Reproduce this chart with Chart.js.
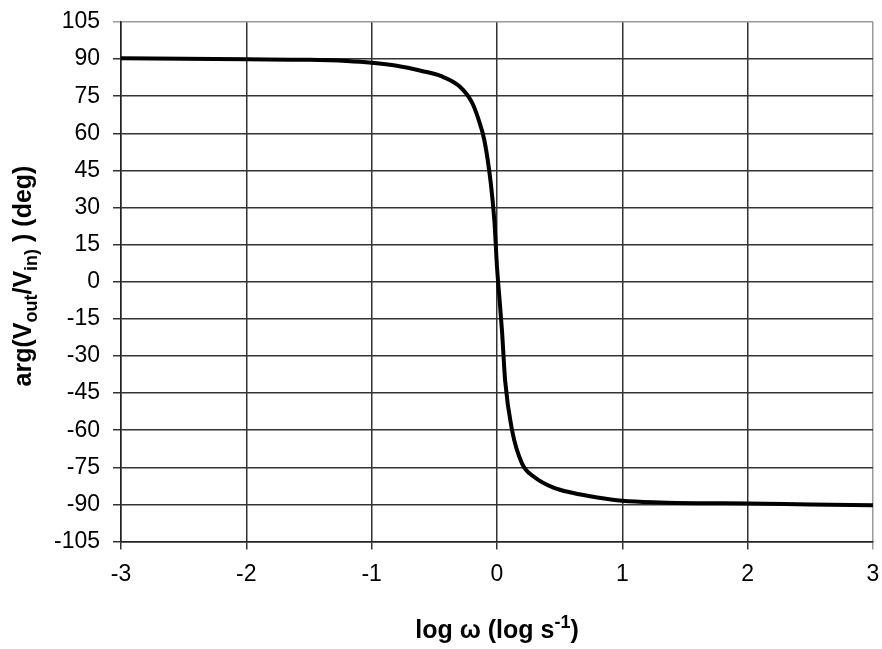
<!DOCTYPE html>
<html>
<head>
<meta charset="utf-8">
<script src="https://cdn.jsdelivr.net/npm/chart.js@4.4.0/dist/chart.umd.min.js"></script>
<style>
  html, body { margin: 0; padding: 0; background: #fff; }
  #wrap { width: 882px; height: 649px; }
</style>
</head>
<body>
<div id="wrap"><canvas id="myChart" width="882" height="649"></canvas></div>
<script>
// log omega values and phase (deg)
var logOmega = [-3, -2.5, -2, -1.5, -1.2, -1, -0.8, -0.6, -0.45, -0.3, -0.2, -0.15, -0.1, -0.05, -0.02, 0,
                0.02, 0.04, 0.065, 0.12, 0.2, 0.3, 0.45, 0.6, 0.8, 1, 1.3, 1.6, 2, 2.5, 3];
var phaseDeg = [90.3, 90.1, 89.9, 89.7, 89.2, 88.5, 87.3, 85.2, 83.2, 79.0, 72.5, 66.0, 57.0, 40.0, 24.0, 6.0,
                -7.0, -20.0, -40.0, -60.0, -73.5, -79.0, -83.2, -85.3, -87.2, -88.5, -89.2, -89.5, -89.6, -90.0, -90.3];

var xTicks = [-3, -2, -1, 0, 1, 2, 3];
var yTicks = [-105, -90, -75, -60, -45, -30, -15, 0, 15, 30, 45, 60, 75, 90, 105];

var xTitle = [{ t: 'log \u03c9 (log s' }, { t: '-1', sup: true }, { t: ')' }];
var yTitle = [{ t: 'arg(V' }, { t: 'out', sub: true }, { t: '/V' }, { t: 'in)', sub: true }, { t: ' ) (deg)' }];

var points = logOmega.map(function (x, i) { return { x: x, y: phaseDeg[i] }; });

function drawRich(ctx, parts, cx, cy, angle, size) {
  var big = 'bold ' + size + 'px "Liberation Sans", Arial, sans-serif';
  var small = 'bold ' + Math.round(size * 0.7) + 'px "Liberation Sans", Arial, sans-serif';
  var total = 0;
  parts.forEach(function (p) {
    ctx.font = (p.sub || p.sup) ? small : big;
    p.w = ctx.measureText(p.t).width;
    total += p.w;
  });
  ctx.save();
  ctx.translate(cx, cy);
  ctx.rotate(angle);
  ctx.fillStyle = '#000';
  ctx.textBaseline = 'alphabetic';
  ctx.textAlign = 'left';
  var x = -total / 2;
  var base = size * 0.36;
  parts.forEach(function (p) {
    ctx.font = (p.sub || p.sup) ? small : big;
    var dy = p.sub ? size * 0.22 : (p.sup ? -size * 0.42 : 0);
    ctx.fillText(p.t, x, base + dy);
    x += p.w;
  });
  ctx.restore();
}

var axisTitles = {
  id: 'axisTitles',
  afterDraw: function (chart) {
    drawRich(chart.ctx, xTitle, 497, 629, 0, 25);
    drawRich(chart.ctx, yTitle, 22, 276, -Math.PI / 2, 25);
  }
};

function edgeColor(ctx, last) {
  return ctx.tick && ctx.tick.value === last ? '#9a9a9a' : '#333333';
}

var ctx = document.getElementById('myChart').getContext('2d');
var myChart = new Chart(ctx, {
  type: 'line',
  data: {
    datasets: [{
      data: points,
      borderColor: '#000',
      borderWidth: 4,
      pointRadius: 0,
      fill: false,
      cubicInterpolationMode: 'monotone'
    }]
  },
  options: {
    responsive: false,
    animation: false,
    layout: { padding: { top: 22, right: 9, bottom: 0, left: 0 } },
    plugins: {
      legend: { display: false },
      tooltip: { enabled: false }
    },
    scales: {
      x: {
        type: 'linear',
        min: -3,
        max: 3,
        afterBuildTicks: function (s) { s.ticks = xTicks.map(function (v) { return { value: v }; }); },
        afterFit: function (s) { s.height = 107.5; s.paddingLeft = 0; s.paddingRight = 0; },
        ticks: {
          color: '#000',
          padding: 11,
          font: { family: '"Liberation Sans", Arial, sans-serif', size: 23 }
        },
        grid: {
          color: function (c) { return edgeColor(c, 3); },
          lineWidth: 1.5,
          tickLength: 8
        },
        border: { color: '#222', width: 1.5 }
      },
      y: {
        min: -105,
        max: 105,
        afterBuildTicks: function (s) { s.ticks = yTicks.map(function (v) { return { value: v }; }); },
        afterFit: function (s) { s.width = 121; s.paddingTop = 0; s.paddingBottom = 0; },
        ticks: {
          color: '#000',
          padding: 13,
          font: { family: '"Liberation Sans", Arial, sans-serif', size: 23 }
        },
        grid: {
          color: function (c) { return edgeColor(c, 105); },
          lineWidth: 1.5,
          tickLength: 8
        },
        border: { color: '#222', width: 1.5 }
      }
    }
  },
  plugins: [axisTitles]
});
</script>
</body>
</html>
